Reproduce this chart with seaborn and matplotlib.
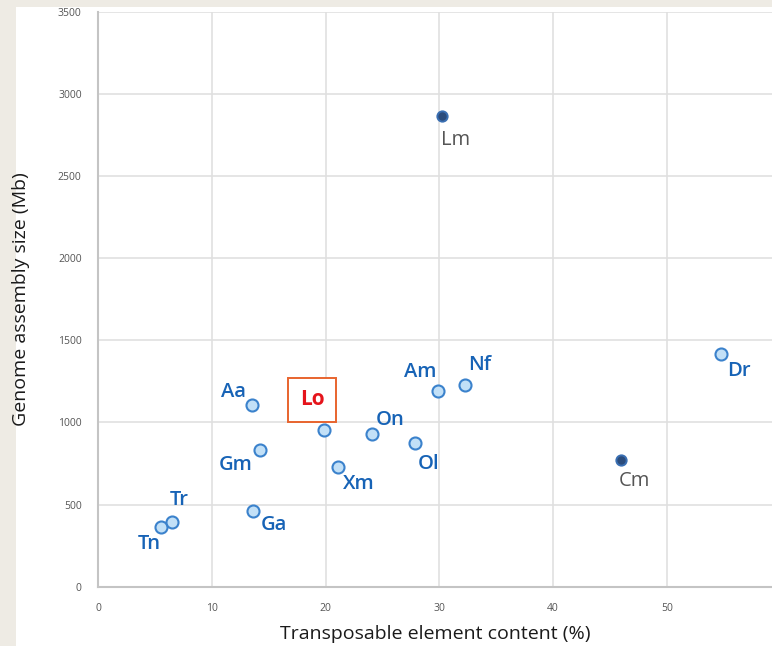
import matplotlib
matplotlib.use("Agg")
import matplotlib.pyplot as plt
from matplotlib.patches import Rectangle
import seaborn as sns
import pandas as pd

# ---- data ----
species = ["Tn", "Tr", "Aa", "Gm", "Ga", "Lo", "Xm", "On", "Ol", "Am", "Nf", "Dr", "Cm", "Lm"]
te_content = [5.5, 6.45, 13.5, 14.2, 13.6, 19.85, 21.1, 24.05, 27.85, 29.85, 32.25, 54.8, 46.0, 30.25]
genome_size = [365, 396, 1106, 832, 463, 954, 730, 929, 873, 1193, 1228, 1416, 771, 2867]
group = ["teleost"] * 12 + ["other"] * 2
# label offsets (pixels) from each point
label_dx = [-12, 8, -18, -24, 21, -12, 21, 18, 14, -17, 15, 18, 13, 13]
label_dy = [-17, 22, 13, -15, -14, 30, -17, 14, -21, 19, 20, -17, -21, -24]

x_ticks = [0, 10, 20, 30, 40, 50]
y_ticks = [0, 500, 1000, 1500, 2000, 2500, 3000, 3500]
x_label = "Transposable element content (%)"
y_label = "Genome assembly size (Mb)"
highlight = "Lo"

df = pd.DataFrame({"species": species, "te": te_content, "size": genome_size, "group": group})

sns.set_theme(style="white")
plt.rcParams["font.family"] = ["Open Sans", "DejaVu Sans"]

fig = plt.figure(figsize=(7.72, 6.46), dpi=100)
fig.patch.set_facecolor("#eeebe4")
bg = Rectangle((16 / 772, 0), 1 - 16 / 772, (646 - 7) / 646,
               transform=fig.transFigure, facecolor="white",
               edgecolor="none", zorder=-10)
fig.patches.append(bg)

ax = fig.add_axes([98.3 / 772, 59.3 / 646, 1 - 98.3 / 772, (634.3 - 59.3) / 646])
ax.set_facecolor("white")

teleost = df[df["group"] == "teleost"]
other = df[df["group"] == "other"]
sns.scatterplot(data=teleost, x="te", y="size", ax=ax, s=75,
                color="#c2e0f7", edgecolor="#3b82cc", linewidth=1.5, zorder=5, legend=False)
sns.scatterplot(data=other, x="te", y="size", ax=ax, s=55,
                color="#2b4c7c", edgecolor="#3a6fb2", linewidth=1.4, zorder=5, legend=False)

for sp, xv, yv, g, dx, dy in zip(species, te_content, genome_size, group, label_dx, label_dy):
    if sp == highlight:
        ax.annotate(sp, (xv, yv), xytext=(dx, dy), textcoords="offset pixels",
                    ha="center", va="center", fontsize=15, fontweight="bold",
                    color="#e5141b", zorder=6,
                    bbox=dict(boxstyle="square,pad=0.55", facecolor="white",
                              edgecolor="#e8642e", linewidth=1.4))
    else:
        col = "#1763b6" if g == "teleost" else "#555555"
        w = "semibold" if g == "teleost" else "normal"
        ax.annotate(sp, (xv, yv), xytext=(dx, dy), textcoords="offset pixels",
                    ha="center", va="center", fontsize=14.5, color=col,
                    fontweight=w, zorder=6)

ax.set_xlim(0, 59.25)
ax.set_ylim(0, 3500)
ax.set_xticks(x_ticks)
ax.set_yticks(y_ticks)
ax.grid(True, color="#e0e0e0", linewidth=1.2)
ax.set_axisbelow(True)
for side in ["top", "right"]:
    ax.spines[side].set_visible(False)
for side in ["left", "bottom"]:
    ax.spines[side].set_color("#c4c4c4")
    ax.spines[side].set_linewidth(1.5)
ax.tick_params(axis="both", length=0, labelsize=7.5, labelcolor="#555555")
ax.tick_params(axis="x", pad=12)
ax.tick_params(axis="y", pad=12)
ax.set_xlabel(x_label, fontsize=14, color="#1a1a1a", labelpad=8)
ax.set_ylabel(y_label, fontsize=14, color="#1a1a1a", labelpad=20)

fig.savefig("out.png", dpi=100, facecolor=fig.get_facecolor())
